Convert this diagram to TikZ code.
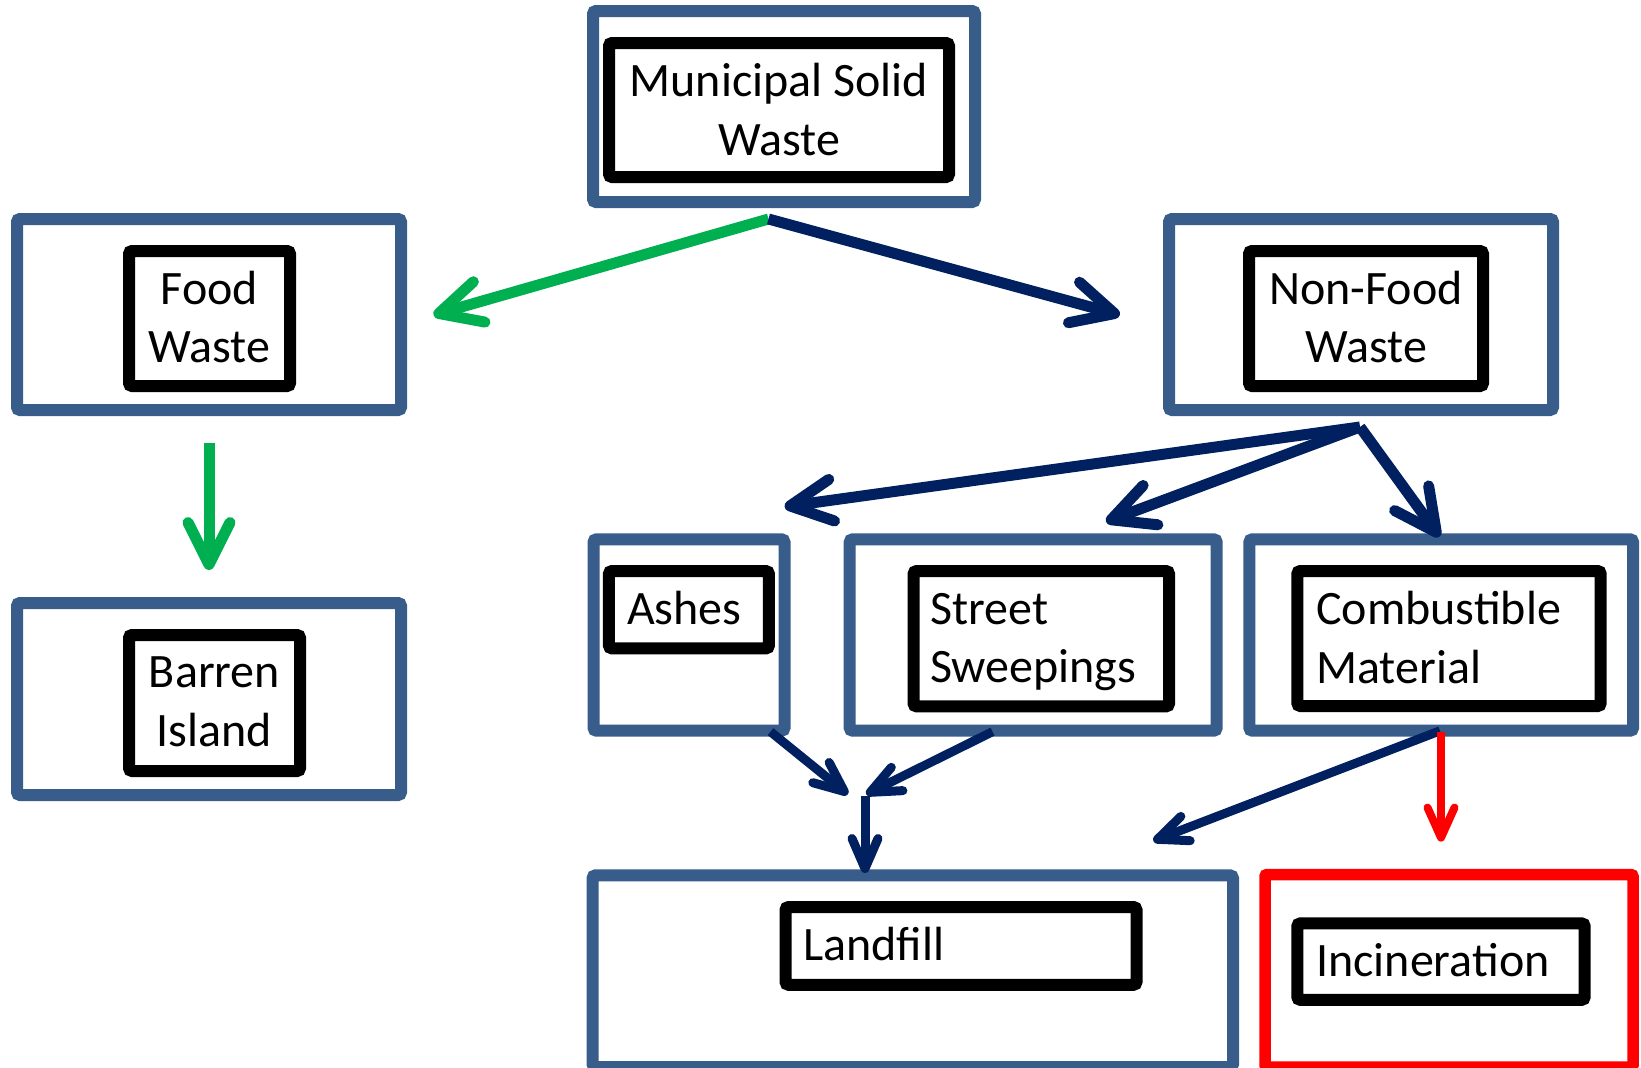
\documentclass[tikz,border=0pt]{standalone}
\usepackage{fontspec}
\setmainfont{Carlito}
\usetikzlibrary{arrows.meta}
\definecolor{boxblue}{HTML}{385D8A}
\definecolor{navy}{HTML}{002060}
\definecolor{grn}{HTML}{00B050}
\definecolor{rd}{HTML}{FF0000}
\tikzset{
  outerbox/.style={draw=boxblue, line width=12pt, fill=white, rounded corners=3pt, inner sep=0pt},
  redbox/.style={draw=rd, line width=11.5pt, fill=white, rounded corners=2pt, inner sep=0pt},
  innerbox/.style={draw=black, line width=12pt, fill=white, rounded corners=3pt, inner sep=0pt},
  lbl/.style={inner sep=0pt, font=\fontsize{48}{58.4}\selectfont},
  bigarrow/.style={line width=11pt, -{Straight Barb[length=42pt, width=42pt, round]}},
  thinarrow/.style={line width=9pt, navy, -{Straight Barb[length=30pt, width=26pt, round]}},
  redarrow/.style={line width=8pt, rd, -{Straight Barb[length=30pt, width=27pt, round]}}
}
\begin{document}
\begin{tikzpicture}[x=1pt, y=-1pt]
\useasboundingbox (0,0) rectangle (1641,1068);
% boxes
\node[outerbox, minimum width=382pt, minimum height=191pt] (mswO) at (784,106.5) {};
\node[innerbox, minimum width=340pt, minimum height=134pt] (msw) at (779,110) {};
\node[outerbox, minimum width=384pt, minimum height=191pt] (foodO) at (209,314.5) {};
\node[innerbox, minimum width=161pt, minimum height=135pt] (food) at (209.5,318.5) {};
\node[outerbox, minimum width=384pt, minimum height=191pt] (nonO) at (1361,314.5) {};
\node[innerbox, minimum width=234pt, minimum height=135pt] (non) at (1366,318.5) {};
\node[outerbox, minimum width=384pt, minimum height=192pt] (barO) at (209,699) {};
\node[innerbox, minimum width=171pt, minimum height=136pt] (bar) at (214.5,703) {};
\node[outerbox, minimum width=191pt, minimum height=191.4pt] (ashO) at (689,635) {};
\node[innerbox, minimum width=160pt, minimum height=77.3pt] (ash) at (688.9,609.7) {};
\node[outerbox, minimum width=367pt, minimum height=191.4pt] (strO) at (1033.2,635) {};
\node[innerbox, minimum width=255.5pt, minimum height=135.3pt] (str) at (1041.3,638.7) {};
\node[outerbox, minimum width=383.7pt, minimum height=191.4pt] (comO) at (1441.2,635) {};
\node[innerbox, minimum width=303.4pt, minimum height=135pt] (com) at (1449,638.5) {};
\node[outerbox, minimum width=640.5pt, minimum height=191.7pt] (lanO) at (912.75,971.2) {};
\node[innerbox, minimum width=351pt, minimum height=77.7pt] (lan) at (961,945.9) {};
\node[redbox, minimum width=368pt, minimum height=192.5pt] (incO) at (1449,970.8) {};
\node[innerbox, minimum width=287.4pt, minimum height=76.4pt] (inc) at (1441,961.6) {};
% texts (anchor base = baseline of the last line)
\node[lbl, anchor=base, align=center] (tmsw) at (779,155) {Municipal Solid\\Waste};
\node[lbl, anchor=base, align=center] (tfood) at (209.5,362.7) {Food\\Waste};
\node[lbl, anchor=base, align=center] (tnon) at (1366,362.7) {Non-Food\\Waste};
\node[lbl, anchor=base, align=center] (tbar) at (214.5,746) {Barren\\Island};
\node[lbl, anchor=base west] (tash) at (627,624.3) {Ashes};
\node[lbl, anchor=base west, align=left] (tstr) at (930,682.7) {Street\\Sweepings};
\node[lbl, anchor=base west, align=left] (tcom) at (1316,683.2) {Combustible\\Material};
\node[lbl, anchor=base west] (tlan) at (803,960.7) {Landfill};
\node[lbl, anchor=base west] (tinc) at (1316,976) {Incineration};
% connector points
\coordinate (mswS) at (768.5,219);
\coordinate (foodT) at (433.5,315);
\coordinate (nonT) at (1119.8,315);
\coordinate (foodS) at (209,443);
\coordinate (barT) at (209,570);
\coordinate (nonS) at (1360,427);
\coordinate (ashT) at (784.6,506.7);
\coordinate (strT) at (1106,521.7);
\coordinate (comT) at (1439.5,536.7);
\coordinate (ashS) at (770.5,731.7);
\coordinate (strS) at (992.5,731.7);
\coordinate (junA) at (847.8,794.3);
\coordinate (junB) at (866.2,794.3);
\coordinate (junS) at (865,795.7);
\coordinate (lanT) at (865,873);
\coordinate (comS) at (1440,730.8);
\coordinate (lanT2) at (1153.3,840.9);
\coordinate (comR) at (1441,731.5);
\coordinate (incT) at (1441,841.6);
% arrows
\draw[bigarrow, grn] (mswS) -- (foodT);
\draw[bigarrow, navy] (mswS) -- (nonT);
\draw[bigarrow, grn] (foodS) -- (barT);
\draw[bigarrow, navy] (nonS) -- (ashT);
\draw[bigarrow, navy] (nonS) -- (strT);
\draw[bigarrow, navy] (nonS) -- (comT);
\draw[thinarrow] (ashS) -- (junA);
\draw[thinarrow] (strS) -- (junB);
\draw[thinarrow] (junS) -- (lanT);
\draw[thinarrow] (comS) -- (lanT2);
\draw[redarrow] (comR) -- (incT);
\end{tikzpicture}
\end{document}
